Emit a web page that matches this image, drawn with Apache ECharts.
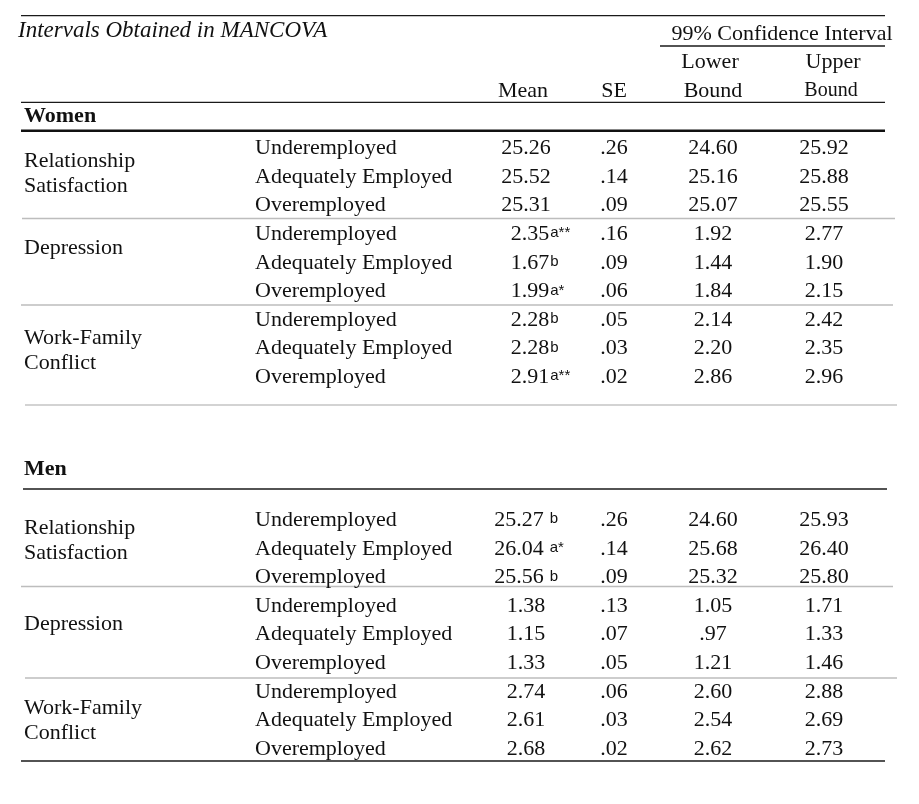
<!DOCTYPE html>
<html><head><meta charset="utf-8">
<script src="https://cdn.jsdelivr.net/npm/echarts@6/dist/echarts.min.js"></script>
<style>html,body{margin:0;padding:0;background:#fff}#c{width:919px;height:804px}</style>
</head><body><div id="c"></div><script>
// ---------------- data ----------------
const title = 'Intervals Obtained in MANCOVA';
const ciHeader = '99% Confidence Interval';
const colHeadTop = ['', '', 'Lower', 'Upper'];
const colHeadBottom = ['Mean', 'SE', 'Bound', 'Bound'];
const groups = ['Women', 'Men'];
const measures = ['Relationship\nSatisfaction', 'Depression', 'Work-Family\nConflict'];
const levels = ['Underemployed', 'Adequately Employed', 'Overemployed'];

const womenMean  = [25.26, 25.52, 25.31, 2.35, 1.67, 1.99, 2.28, 2.28, 2.91];
const womenNote  = ['', '', '', 'a**', 'b', 'a*', 'b', 'b', 'a**'];
const womenSE    = [0.26, 0.14, 0.09, 0.16, 0.09, 0.06, 0.05, 0.03, 0.02];
const womenLower = [24.60, 25.16, 25.07, 1.92, 1.44, 1.84, 2.14, 2.20, 2.86];
const womenUpper = [25.92, 25.88, 25.55, 2.77, 1.90, 2.15, 2.42, 2.35, 2.96];

const menMean  = [25.27, 26.04, 25.56, 1.38, 1.15, 1.33, 2.74, 2.61, 2.68];
const menNote  = ['b', 'a*', 'b', '', '', '', '', '', ''];
const menSE    = [0.26, 0.14, 0.09, 0.13, 0.07, 0.05, 0.06, 0.03, 0.02];
const menLower = [24.60, 25.68, 25.32, 1.05, 0.97, 1.21, 2.60, 2.54, 2.62];
const menUpper = [25.93, 26.40, 25.80, 1.71, 1.33, 1.46, 2.88, 2.69, 2.73];

// ---------------- layout / style ----------------
const SERIF = '"Liberation Serif", "Times New Roman", serif';
const F = '22px ' + SERIF;
const FB = 'bold 22px ' + SERIF;
const FI = 'italic 23px ' + SERIF;
const NOTE_FONT = '15px "Liberation Sans", Arial, sans-serif';
const INK = '#111';
const ROW_PX = 28.6, FIRST_ROW_PX = 147.5, H = 804, W = 919;
const TEXT_DY = 1;
const colX = { measure: 24, level: 255, mean: 526, se: 614, lower: 713, upper: 824 };
const notedMeanShift = [4, -7];
const headX = [523, 614, 710, 833];
const headBottomX = [523, 614, 713, 831];
const groupBase = [0, 13];
const groupTitleRow = [-1.12, 11.22];
const measureLabelOffset = [[0.89, 0.48, 1.08], [0.72, 0.62, 1.01]];
const rules = [
  { y: -4.612, x1: 21, x2: 885, w: 1.3, c: '#1a1a1a' },
  { y: -3.549, x1: 660, x2: 885, w: 1.3, c: '#1a1a1a' },
  { y: -1.580, x1: 21, x2: 885, w: 1.2, c: '#1a1a1a' },
  { y: -0.587, x1: 21, x2: 885, w: 2.6, c: '#111' },
  { y: 2.483, x1: 22, x2: 895, w: 1.3, c: '#bdbdbd' },
  { y: 5.507, x1: 21, x2: 893, w: 1.3, c: '#bdbdbd' },
  { y: 9.003, x1: 25, x2: 897, w: 1.3, c: '#c4c4c4' },
  { y: 11.941, x1: 23, x2: 887, w: 1.3, c: '#1a1a1a' },
  { y: 15.350, x1: 21, x2: 893, w: 1.3, c: '#bdbdbd' },
  { y: 18.549, x1: 25, x2: 897, w: 1.3, c: '#bdbdbd' },
  { y: 21.451, x1: 21, x2: 885, w: 1.5, c: '#1a1a1a' }
];

function fmt(v) { return v.toFixed(2).replace(/^0\./, '.'); }
const mctx = document.createElement('canvas').getContext('2d');
function textWidth(s, font) { mctx.font = font; return mctx.measureText(s).width; }

// ---------------- build cells ----------------
const texts = [];
texts.push({ x: 18, y: -4.11, text: title, font: FI, align: 'left' });
texts.push({ x: 782, y: -4.0, text: ciHeader, font: F });
colHeadTop.forEach((s, i) => { if (s) texts.push({ x: headX[i], y: -3.01, text: s, font: F }); });
colHeadBottom.forEach((s, i) => texts.push({ x: headBottomX[i], y: -2.01, text: s, font: i === 3 ? '20px ' + SERIF : F }));

const tables = [
  { mean: womenMean, note: womenNote, se: womenSE, lower: womenLower, upper: womenUpper, gap: 1 },
  { mean: menMean, note: menNote, se: menSE, lower: menLower, upper: menUpper, gap: 6 }
];
groups.forEach((g, gi) => {
  texts.push({ x: 24, y: groupTitleRow[gi], text: g, font: FB, align: 'left' });
  const t = tables[gi];
  measures.forEach((m, mi) => {
    const first = groupBase[gi] + mi * levels.length;
    texts.push({ x: colX.measure, y: first + measureLabelOffset[gi][mi], text: m, font: F, align: 'left', lh: 25 });
    levels.forEach((lv, li) => {
      const k = mi * levels.length + li;
      const row = first + li;
      texts.push({ x: colX.level, y: row, text: lv, font: F, align: 'left' });
      texts.push({ x: colX.mean, y: row, text: fmt(t.mean[k]), font: F, note: t.note[k], gap: t.gap,
                   dx: t.note[k] ? notedMeanShift[gi] : 0 });
      texts.push({ x: colX.se, y: row, text: fmt(t.se[k]), font: F });
      texts.push({ x: colX.lower, y: row, text: fmt(t.lower[k]), font: F });
      texts.push({ x: colX.upper, y: row, text: fmt(t.upper[k]), font: F });
    });
  });
});

// ---------------- chart ----------------
const chart = echarts.init(document.getElementById('c'), null, { renderer: 'canvas' });
chart.setOption({
  backgroundColor: '#fff',
  animation: false,
  grid: { left: 0, right: 0, top: 0, bottom: 0, containLabel: false },
  xAxis: { type: 'value', min: 0, max: W, show: false },
  yAxis: { type: 'value', inverse: true, min: -FIRST_ROW_PX / ROW_PX, max: (H - FIRST_ROW_PX) / ROW_PX, show: false },
  series: [
    {
      type: 'custom', name: 'rules', silent: true, clip: false,
      data: rules.map(r => [r.x1, r.y, r.x2]),
      renderItem: function (params, api) {
        const r = rules[params.dataIndex];
        const a = api.coord([r.x1, r.y]);
        const b = api.coord([r.x2, r.y]);
        return { type: 'line', shape: { x1: a[0], y1: a[1], x2: b[0], y2: b[1] }, style: { stroke: r.c, lineWidth: r.w } };
      }
    },
    {
      type: 'custom', name: 'cells', silent: true, clip: false,
      data: texts.map(t => [t.x, t.y]),
      renderItem: function (params, api) {
        const t = texts[params.dataIndex];
        const p = api.coord([t.x, t.y]);
        const cx = p[0] + (t.dx || 0), cy = p[1] + TEXT_DY;
        const children = [{
          type: 'text', x: cx, y: cy,
          style: { text: t.text, font: t.font, fill: INK, align: t.align || 'center', verticalAlign: 'middle', lineHeight: t.lh || undefined }
        }];
        if (t.note) {
          const w = textWidth(t.text, t.font);
          children.push({
            type: 'text', x: cx + w / 2 + t.gap, y: cy - 1,
            style: { text: t.note, font: NOTE_FONT, fill: INK, align: 'left', verticalAlign: 'middle' }
          });
        }
        return { type: 'group', children: children };
      }
    }
  ]
});
</script></body></html>
